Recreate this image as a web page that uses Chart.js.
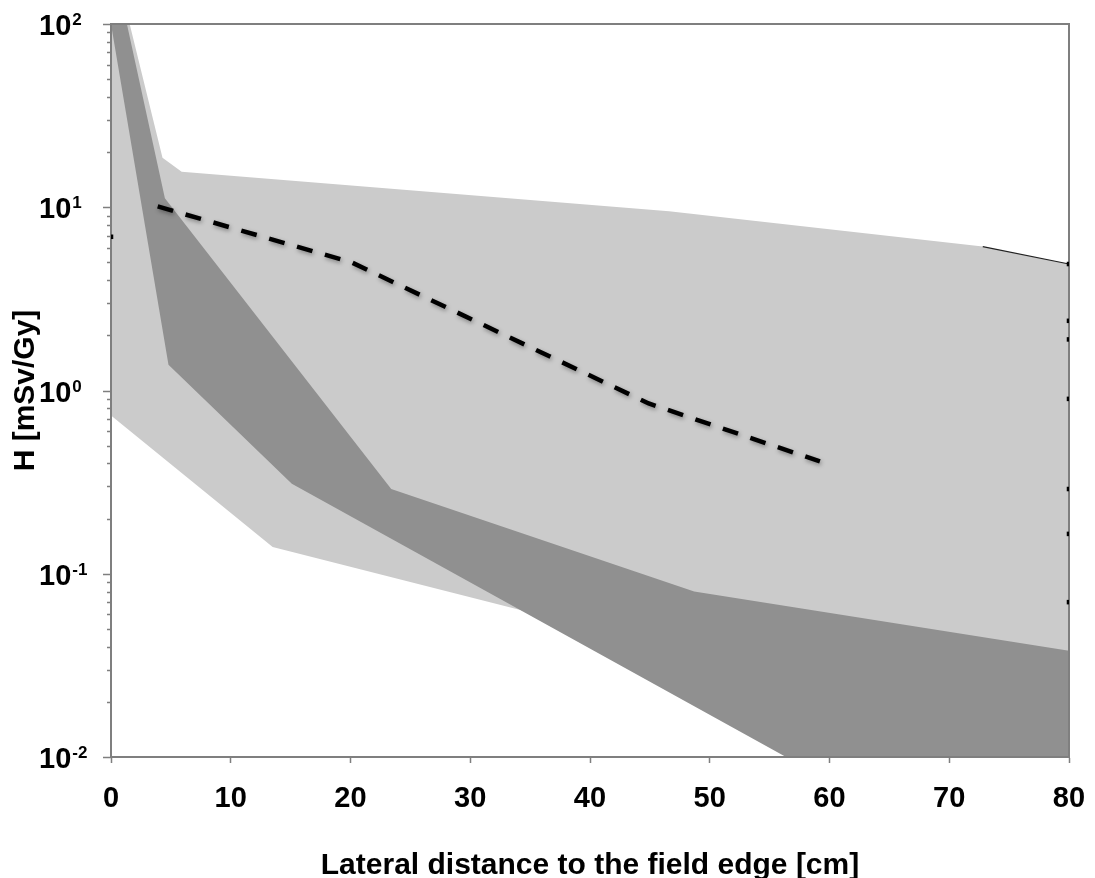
<!DOCTYPE html>
<html>
<head>
<meta charset="utf-8">
<title>Lateral dose profile</title>
<script src="https://cdn.jsdelivr.net/npm/chart.js@4.4.1/dist/chart.umd.min.js"></script>
<style>
    html, body { margin: 0; padding: 0; background: #ffffff; }
    #wrap { width: 1095px; height: 878px; position: relative; }
</style>
</head>
<body>
<div id="wrap"><canvas id="doseChart"></canvas></div>
<script>
// Outer (light grey) band
const lightUpperX = [0, 4.3, 5.9, 46.6, 72.8, 80];
const lightUpperY = [260, 18.6, 15.6, 9.5, 6.1, 4.9];
const lightLowerX = [0, 13.5, 80];
const lightLowerY = [0.73, 0.14, 0.011];

// Inner (dark grey) band
const darkUpperX = [0, 4.5, 23.4, 48.7, 80];
const darkUpperY = [250, 11.2, 0.29, 0.08, 0.038];
const darkLowerX = [0, 4.8, 15.1, 80];
const darkLowerY = [100, 1.38, 0.31, 0.0014];

// Dashed curve
const dashX = [3.9, 20.1, 44.9, 59.2];
const dashY = [10.1, 5.0, 0.85, 0.41];

// Thin edge line and markers sitting on the plot border
const edgeX = [72.8, 80];
const edgeY = [6.1, 4.9];
const markX = [0, 80, 80, 80, 80, 80, 80, 80];
const markY = [6.9, 4.9, 2.4, 1.9, 0.9, 0.29, 0.165, 0.07];

// Axis ticks
const xTicks = [0, 10, 20, 30, 40, 50, 60, 70, 80];
const yExponents = [-2, -1, 0, 1, 2];

const axisColor = '#7f7f7f';
const fontFamily = "'Liberation Sans', Arial, Helvetica, sans-serif";

function pts(xs, ys) {
    return xs.map((x, i) => ({ x: x, y: ys[i] }));
}

// y axis: minor/major ticks and 10^n labels with real superscripts
const logAxisPlugin = {
    id: 'logAxis',
    afterDraw(chart) {
        const ctx = chart.ctx;
        const y = chart.scales.y;
        const left = chart.chartArea.left;
        ctx.save();
        ctx.strokeStyle = axisColor;
        ctx.lineWidth = 1.5;
        for (let e = yExponents[0]; e <= yExponents[yExponents.length - 1]; e++) {
            for (let k = 1; k <= 9; k++) {
                const v = k * Math.pow(10, e);
                if (v > y.max * 1.0001) break;
                const py = Math.round(y.getPixelForValue(v)) + 0.5;
                const len = k === 1 ? 8 : 4;
                ctx.beginPath();
                ctx.moveTo(left - len, py);
                ctx.lineTo(left, py);
                ctx.stroke();
            }
        }
        ctx.fillStyle = '#000000';
        ctx.textAlign = 'left';
        ctx.textBaseline = 'alphabetic';
        yExponents.forEach(e => {
            const py = y.getPixelForValue(Math.pow(10, e));
            ctx.font = 'bold 29px ' + fontFamily;
            ctx.fillText('10', 39, py + 11);
            const w = ctx.measureText('10').width;
            ctx.font = 'bold 17px ' + fontFamily;
            ctx.fillText(String(e), 39 + w + 1, py + 1);
        });
        ctx.restore();
    },
    beforeDatasetsDraw(chart) {
        // frame under the marks, over nothing yet
        const ctx = chart.ctx;
        const a = chart.chartArea;
        ctx.save();
        ctx.strokeStyle = axisColor;
        ctx.lineWidth = 2;
        ctx.strokeRect(a.left, a.top, a.right - a.left, a.bottom - a.top);
        ctx.restore();
    },
    beforeDatasetDraw(chart, args) {
        const ds = chart.data.datasets[args.index];
        if (ds.label === 'marks') {
            // redraw the frame over the fills, before the marks
            const ctx = chart.ctx;
            const a = chart.chartArea;
            ctx.save();
            ctx.strokeStyle = axisColor;
            ctx.lineWidth = 2;
            ctx.strokeRect(a.left, a.top, a.right - a.left, a.bottom - a.top);
            ctx.restore();
        }
        if (ds.label === 'dashed') {
            const ctx = chart.ctx;
            ctx.save();
            ctx.shadowColor = 'rgba(0, 0, 0, 0.35)';
            ctx.shadowBlur = 4;
            ctx.shadowOffsetX = 1;
            ctx.shadowOffsetY = 2;
        }
    },
    afterDatasetDraw(chart, args) {
        if (chart.data.datasets[args.index].label === 'dashed') {
            chart.ctx.restore();
        }
    }
};

const hidden = 'rgba(0, 0, 0, 0)';

const ctx = document.getElementById('doseChart').getContext('2d');
const doseChart = new Chart(ctx, {
    type: 'line',
    data: {
        datasets: [
            {
                label: 'lightUpper',
                data: pts(lightUpperX, lightUpperY),
                borderColor: hidden,
                borderWidth: 0,
                pointRadius: 0,
                backgroundColor: '#cbcbcb',
                fill: '+1',
                order: 4
            },
            {
                label: 'lightLower',
                data: pts(lightLowerX, lightLowerY),
                borderColor: hidden,
                borderWidth: 0,
                pointRadius: 0,
                fill: false,
                order: 4
            },
            {
                label: 'darkUpper',
                data: pts(darkUpperX, darkUpperY),
                borderColor: hidden,
                borderWidth: 0,
                pointRadius: 0,
                backgroundColor: '#909090',
                fill: '+1',
                order: 3
            },
            {
                label: 'darkLower',
                data: pts(darkLowerX, darkLowerY),
                borderColor: hidden,
                borderWidth: 0,
                pointRadius: 0,
                fill: false,
                order: 3
            },
            {
                label: 'edge',
                data: pts(edgeX, edgeY),
                borderColor: '#222222',
                borderWidth: 1.2,
                pointRadius: 0,
                fill: false,
                order: 2
            },
            {
                label: 'dashed',
                data: pts(dashX, dashY),
                borderColor: '#000000',
                borderWidth: 4.5,
                borderDash: [16, 13],
                borderCapStyle: 'butt',
                pointRadius: 0,
                fill: false,
                order: 1
            },
            {
                label: 'marks',
                data: pts(markX, markY),
                showLine: false,
                pointStyle: 'rect',
                pointRadius: 3.2,
                pointBackgroundColor: '#000000',
                pointBorderColor: '#000000',
                pointBorderWidth: 0,
                order: 0
            }
        ]
    },
    options: {
        responsive: true,
        maintainAspectRatio: false,
        animation: false,
        events: [],
        layout: {
            padding: { top: 24, right: 26, left: 0, bottom: 0 }
        },
        plugins: {
            legend: { display: false },
            tooltip: { enabled: false }
        },
        scales: {
            x: {
                type: 'linear',
                min: 0,
                max: 80,
                afterBuildTicks: (s) => { s.ticks = xTicks.map(v => ({ value: v })); },
                afterFit: (s) => {
                    s.height = 121;
                    s.paddingLeft = 0;
                    s.paddingRight = 0;
                },
                ticks: {
                    color: '#000000',
                    font: { family: fontFamily, size: 29, weight: 'bold' },
                    padding: 19,
                    maxRotation: 0,
                    autoSkip: false
                },
                grid: {
                    drawOnChartArea: false,
                    drawTicks: true,
                    tickLength: 6,
                    tickWidth: 1.5,
                    tickColor: axisColor
                },
                border: { display: true, color: axisColor, width: 2 },
                title: {
                    display: true,
                    text: 'Lateral distance to the field edge [cm]',
                    color: '#000000',
                    font: { family: fontFamily, size: 30, weight: 'bold', lineHeight: 1 },
                    padding: { top: 0, bottom: -3 }
                }
            },
            y: {
                type: 'logarithmic',
                min: 0.01,
                max: 100,
                afterFit: (s) => { s.width = 111; },
                ticks: { display: false },
                grid: { display: false },
                border: { display: true, color: axisColor, width: 2 },
                title: {
                    display: true,
                    text: 'H [mSv/Gy]',
                    color: '#000000',
                    font: { family: fontFamily, size: 30, weight: 'bold', lineHeight: 1 },
                    padding: { top: 11, bottom: 0 }
                }
            }
        }
    },
    plugins: [logAxisPlugin]
});
</script>
</body>
</html>
